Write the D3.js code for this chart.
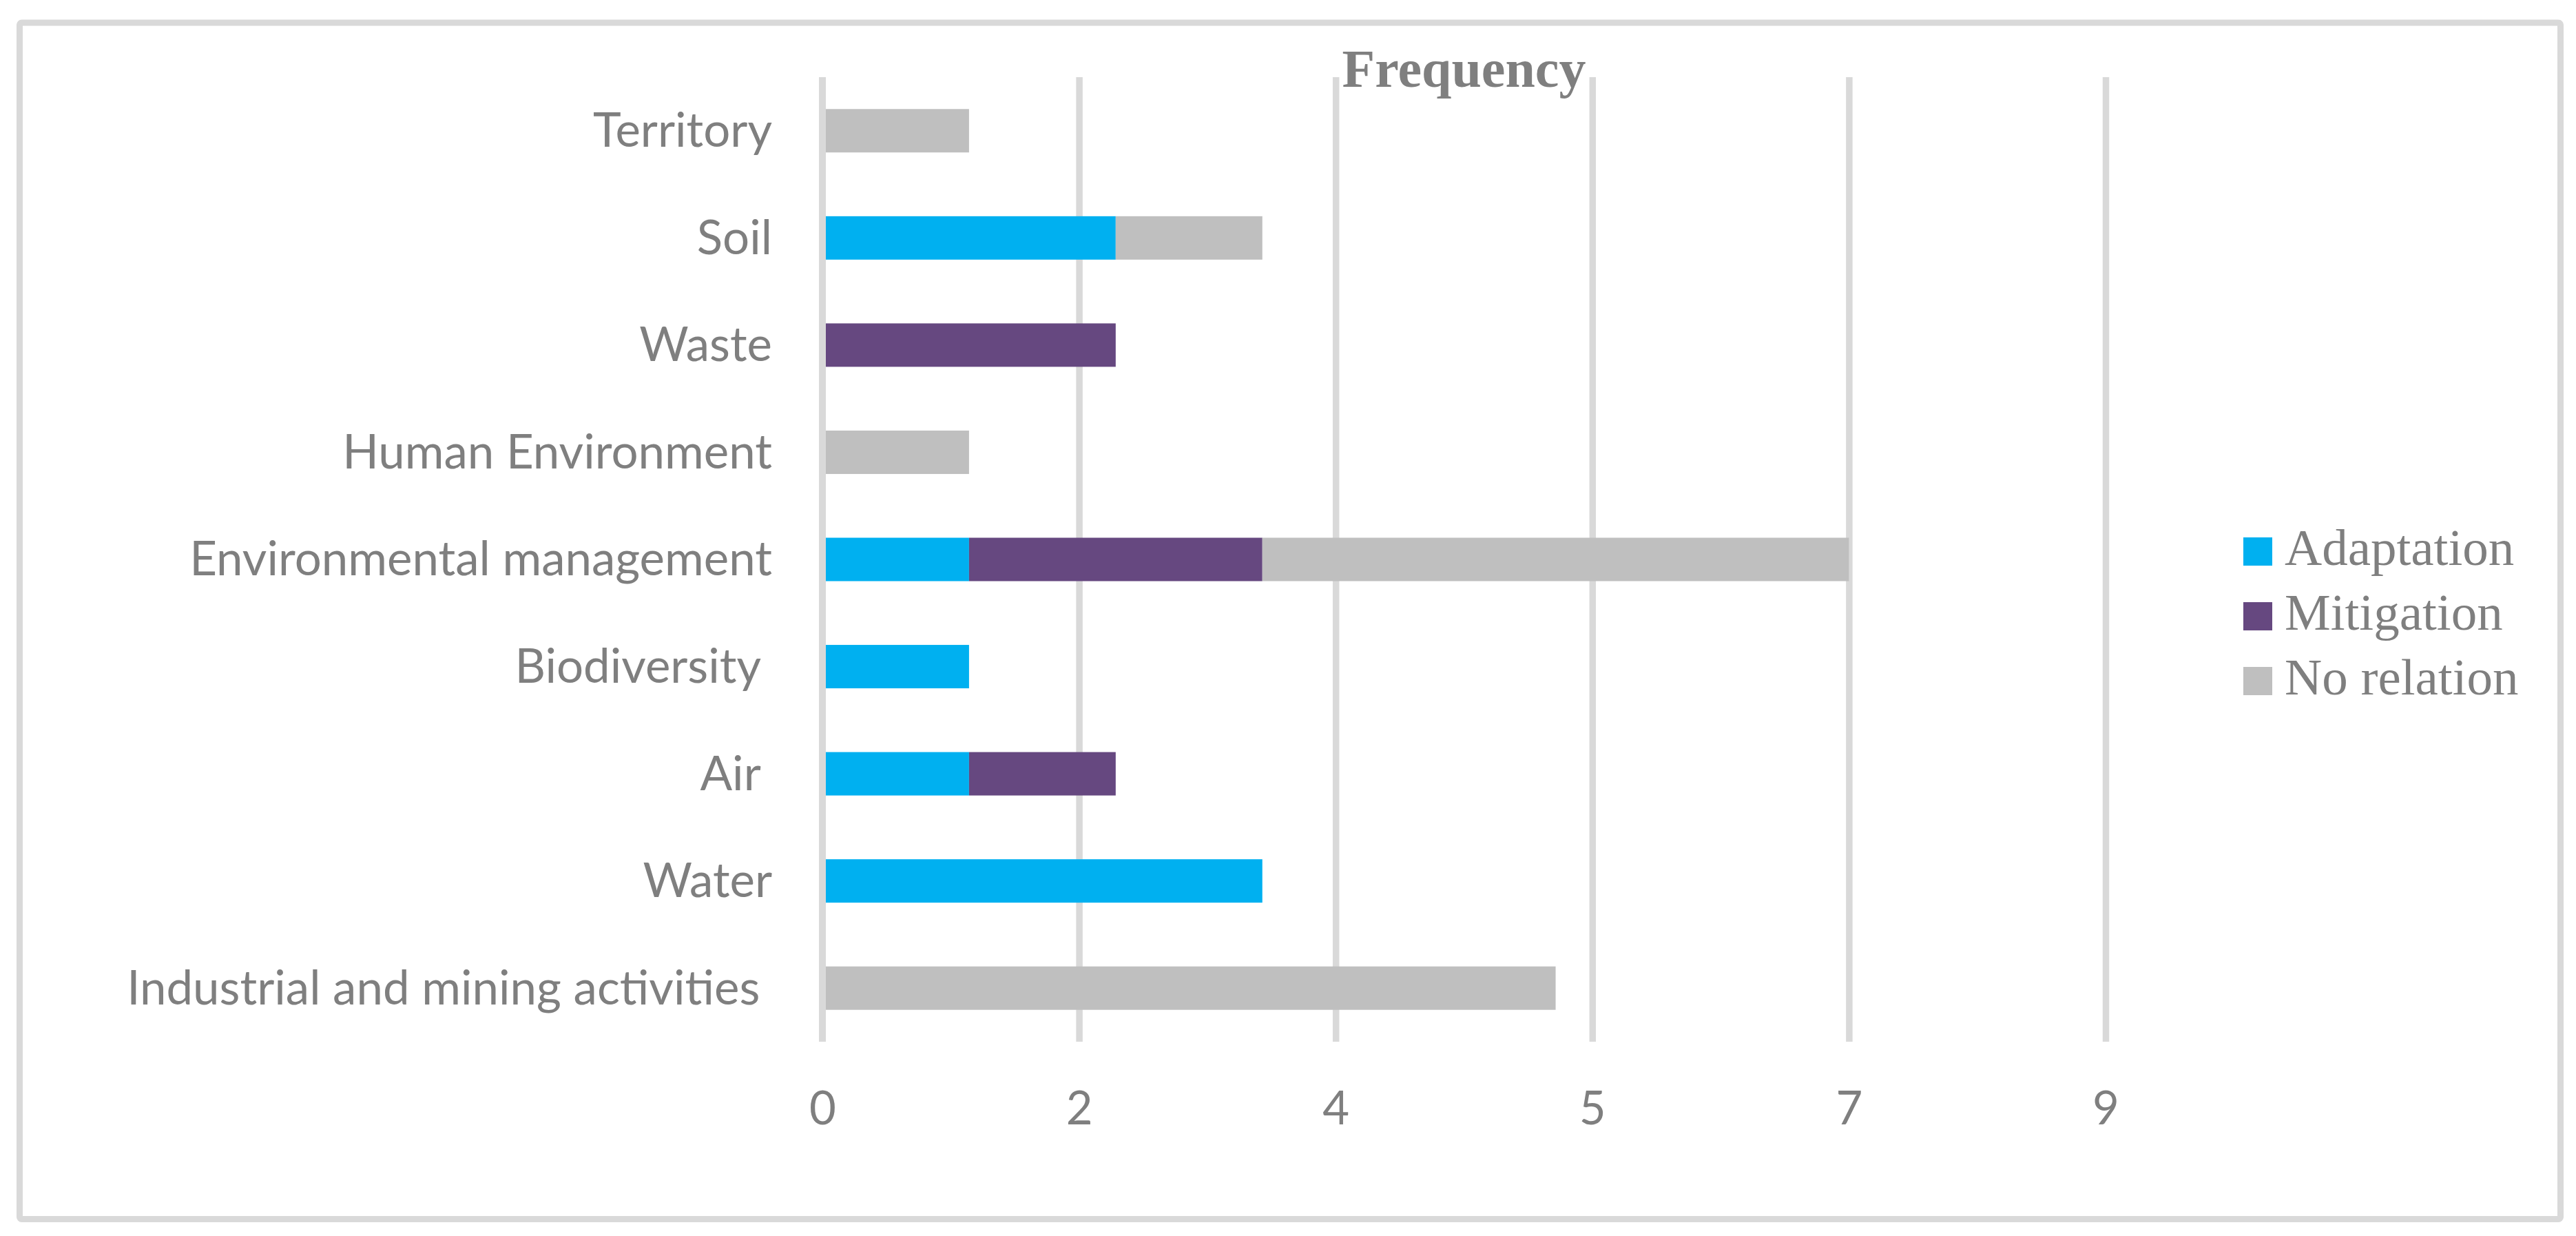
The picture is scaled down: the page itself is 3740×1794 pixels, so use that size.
<!DOCTYPE html>
<html>
<head>
<meta charset="utf-8">
<script src="https://cdn.jsdelivr.net/npm/d3@7"></script>
<style>
  body { margin: 0; background: #fff; }
  .cat text { white-space: pre; }
</style>
</head>
<body>
<div id="chart"></div>
<script>
// rows, top to bottom as they appear
var categories = ["Territory", "Soil", "Waste", "Human Environment", "Environmental management",
  "Biodiversity ", "Air ", "Water", "Industrial and mining activities "];
var adaptation = [0, 2, 0, 0, 1, 1, 1, 3, 0];
var mitigation = [0, 0, 2, 0, 2, 0, 1, 0, 0];
var noRelation = [1, 1, 0, 1, 4, 0, 0, 0, 5];
var seriesNames = ["Adaptation", "Mitigation", "No relation"];
var seriesColors = ["#00b0f0", "#664880", "#bfbfbf"];
var tickValues = [0, 1.75, 3.5, 5.25, 7, 8.75];
var tickLabels = ["0", "2", "4", "5", "7", "9"];

var width = 3740,
  height = 1794;

var margin = { top: 112, right: 683, bottom: 282, left: 1194 };
var plotW = width - margin.left - margin.right,
  plotH = height - margin.top - margin.bottom;

var svg = d3.select("#chart")
  .append("svg")
  .attr("width", width)
  .attr("height", height);

// outer frame
svg.append("rect")
  .attr("x", 28.5).attr("y", 33)
  .attr("width", 3689).attr("height", 1736.5)
  .attr("rx", 3)
  .style("fill", "none")
  .style("stroke", "#d9d9d9")
  .style("stroke-width", 9);

var g = svg.append("g")
  .attr("transform", "translate(" + margin.left + "," + margin.top + ")");

var x = d3.scaleLinear().domain([0, 8.75]).range([0, plotW]);
var y = d3.scaleBand().domain(categories).range([0, plotH])
  .paddingInner(0.595).paddingOuter(0.2975);

var rows = categories.map(function (c, i) {
  return { cat: c, "Adaptation": adaptation[i], "Mitigation": mitigation[i], "No relation": noRelation[i] };
});
var stacked = d3.stack().keys(seriesNames)(rows);

// gridlines
g.append("g")
  .attr("class", "grid")
  .call(d3.axisBottom(x).tickValues(tickValues.slice(1)).tickSize(plotH).tickFormat(""))
  .call(function (s) { s.select(".domain").remove(); })
  .selectAll("line")
  .style("stroke", "#d9d9d9")
  .style("stroke-width", 9.5);

// bars
g.selectAll(".series")
  .data(stacked)
  .enter().append("g")
  .attr("class", "series")
  .style("fill", function (d, i) { return seriesColors[i]; })
  .selectAll("rect")
  .data(function (d) { return d; })
  .enter().append("rect")
  .attr("x", function (d) { return x(d[0]); })
  .attr("y", function (d) { return y(d.data.cat); })
  .attr("width", function (d) { return x(d[1]) - x(d[0]); })
  .attr("height", y.bandwidth());

// vertical axis line on top
g.append("line")
  .attr("x1", x(0)).attr("x2", x(0))
  .attr("y1", 0).attr("y2", plotH)
  .style("stroke", "#d9d9d9")
  .style("stroke-width", 10);

// category labels
var yAxis = g.append("g")
  .attr("class", "cat")
  .call(d3.axisLeft(y).tickSize(0).tickPadding(73));
yAxis.select(".domain").remove();
yAxis.selectAll("text")
  .attr("dy", "0.34em")
  .style("font-family", "Lato, sans-serif")
  .style("font-weight", 400)
  .style("font-size", "69px")
  .style("fill", "#7f7f7f");

// value labels
var xAxis = g.append("g")
  .attr("transform", "translate(0," + plotH + ")")
  .call(d3.axisBottom(x).tickValues(tickValues).tickSize(0).tickPadding(72)
    .tickFormat(function (d, i) { return tickLabels[i]; }));
xAxis.select(".domain").remove();
xAxis.selectAll("text")
  .style("font-family", "Lato, sans-serif")
  .style("font-weight", 400)
  .style("font-size", "67px")
  .style("fill", "#7f7f7f");

// title
svg.append("text")
  .attr("x", margin.left + plotW / 2)
  .attr("y", 126)
  .attr("text-anchor", "middle")
  .style("font-family", "'Liberation Serif', serif")
  .style("font-weight", "bold")
  .style("font-size", "78px")
  .style("fill", "#7f7f7f")
  .text("Frequency");

// legend
var legend = svg.append("g")
  .attr("transform", "translate(3257,780)");
var item = legend.selectAll(".item")
  .data(seriesNames)
  .enter().append("g")
  .attr("class", "item")
  .attr("transform", function (d, i) { return "translate(0," + (i * 94) + ")"; });
item.append("rect")
  .attr("width", 42).attr("height", 41)
  .style("fill", function (d, i) { return seriesColors[i]; });
item.append("text")
  .attr("x", 60)
  .attr("y", 40)
  .style("font-family", "'Liberation Serif', serif")
  .style("font-size", "75px")
  .style("fill", "#7f7f7f")
  .text(function (d) { return d; });
</script>
</body>
</html>
